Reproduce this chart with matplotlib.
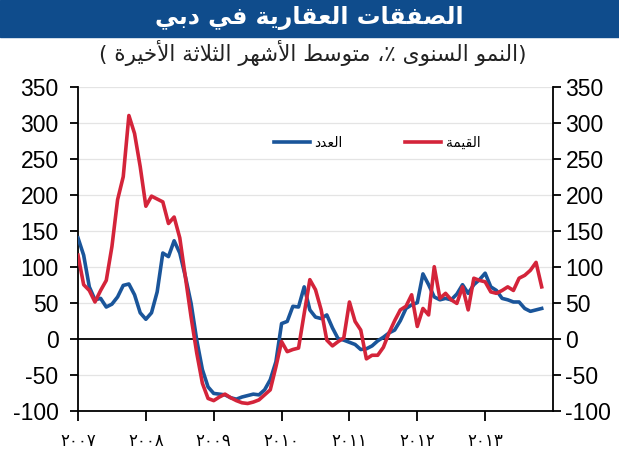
import numpy as np
import matplotlib
matplotlib.use("Agg")
import matplotlib.pyplot as plt
from matplotlib.patches import Rectangle

# ---------------- data ----------------
count_growth = [140, 116, 72, 54, 56, 44, 48, 58, 74, 76, 61, 36, 27, 36, 65, 119, 114, 136, 119, 86,
                49, -2, -43, -67, -76, -77, -78, -82, -84, -81, -79, -77, -78, -71, -57, -32, 21, 24, 45, 44,
                72, 40, 30, 28, 33, 15, 0, -2, -5, -8, -15, -14, -10, -3, 2, 8, 12, 25, 42, 47,
                50, 90, 75, 58, 54, 56, 54, 62, 75, 63, 75, 82, 91, 72, 67, 56, 54, 51, 51, 42,
                38, 40, 42]
value_growth = [116, 75, 67, 51, 67, 81, 128, 193, 225, 310, 285, 239, 184, 198, 194, 190, 160, 169, 140, 85,
                30, -20, -62, -83, -86, -81, -77, -82, -86, -89, -90, -88, -85, -78, -71, -39, -4, -18, -15, -13,
                35, 82, 68, 40, -2, -10, -4, 1, 51, 24, 12, -28, -23, -23, -12, 8, 25, 40, 45, 61,
                17, 42, 33, 100, 56, 63, 54, 49, 72, 40, 84, 81, 79, 65, 63, 67, 72, 67, 84, 88,
                95, 106, 72]
year_labels = ["٢٠٠٧", "٢٠٠٨", "٢٠٠٩", "٢٠١٠", "٢٠١١", "٢٠١٢", "٢٠١٣"]
y_ticks = [-100, -50, 0, 50, 100, 150, 200, 250, 300, 350]
title_text = "الصفقات العقارية في دبي"
subtitle_text = "(النمو السنوى ٪، متوسط الأشهر الثلاثة الأخيرة )"
label_count = "العدد"
label_value = "القيمة"

# ---------------- simple Arabic shaping ----------------
DUAL = {'ب': 0xFE8F, 'ت': 0xFE95, 'ث': 0xFE99, 'خ': 0xFEA5, 'س': 0xFEB1, 'ش': 0xFEB5,
        'ص': 0xFEB9, 'ط': 0xFEC1, 'ع': 0xFEC9, 'ف': 0xFED1, 'ق': 0xFED5, 'ل': 0xFEDD,
        'م': 0xFEE1, 'ن': 0xFEE5, 'ه': 0xFEE9, 'ي': 0xFEF1}
RIGHT = {'ا': 0xFE8D, 'أ': 0xFE83, 'ة': 0xFE93, 'د': 0xFEA9, 'ر': 0xFEAD, 'و': 0xFEED,
         'ى': 0xFEEF}
LAMALEF = {'ا': 0xFEFB, 'أ': 0xFEF7}


def shape(text):
    units = []
    i = 0
    while i < len(text):
        c = text[i]
        if c == 'ل' and i + 1 < len(text) and text[i + 1] in LAMALEF:
            units.append(('LA', LAMALEF[text[i + 1]]))
            i += 2
            continue
        if c in DUAL:
            units.append(('D', DUAL[c]))
        elif c in RIGHT:
            units.append(('R', RIGHT[c]))
        else:
            units.append(('N', c))
        i += 1
    out = []
    for k, (t, v) in enumerate(units):
        if t == 'N':
            out.append(v)
            continue
        prev_joins = k > 0 and units[k - 1][0] == 'D'
        next_joins = (t == 'D') and k + 1 < len(units) and units[k + 1][0] in ('D', 'R', 'LA')
        if t == 'D':
            if prev_joins and next_joins:
                code = v + 3
            elif prev_joins:
                code = v + 1
            elif next_joins:
                code = v + 2
            else:
                code = v
        else:
            code = v + 1 if prev_joins else v
        out.append(chr(code))
    vis = ''.join(out)[::-1]
    vis = vis.translate(str.maketrans({'(': ')', ')': '('}))
    return vis


# ---------------- figure ----------------
plt.rcParams['axes.unicode_minus'] = False
blue = '#1a559a'
red = '#d4243a'
band = '#0f4c8c'
arab_font = ['DejaVu Sans']
num_font = ['Liberation Sans', 'DejaVu Sans']

fig = plt.figure(figsize=(6.19, 4.5), dpi=100)
fig.patches.append(Rectangle((0, 1 - 37 / 450), 1, 37 / 450, transform=fig.transFigure,
                             color=band, zorder=0))
fig.text(0.5, 1 - 18 / 450, shape(title_text), color='white', ha='center', va='center',
         fontsize=17, fontweight='bold', family=arab_font)
fig.text(0.505, 1 - 53 / 450, shape(subtitle_text), color='#222222', ha='center', va='center',
         fontsize=15.5, family=arab_font)

ax = fig.add_axes([78 / 619, 39.3 / 450, 475 / 619, 324 / 450])
x = np.arange(len(count_growth))
ax.plot(x, count_growth, color=blue, lw=2.6, label=shape(label_count), zorder=3,
        solid_joinstyle='round')
ax.plot(x, value_growth, color=red, lw=2.6, label=shape(label_value), zorder=4,
        solid_joinstyle='round')

ax.set_xlim(0, 84)
ax.set_ylim(-100, 350)
ax.set_yticks(y_ticks)
for yv in y_ticks:
    if yv not in (0, -100):
        ax.axhline(yv, color='#e4e4e4', lw=0.9, zorder=1)
ax.axhline(0, color='black', lw=1.3, zorder=2)

ax.spines['top'].set_visible(False)
for s in ('left', 'right', 'bottom'):
    ax.spines[s].set_linewidth(1.3)
ax.tick_params(axis='y', which='both', left=True, right=True, labelleft=True, labelright=True,
               direction='out', length=6, width=1.3, labelsize=16.5)
ax.yaxis.set_tick_params(which='major', pad=8)
for t in ax.yaxis.get_major_ticks():
    t.label2.set_x(1.0)
ax.set_xticks(np.arange(0, 84, 12))
ax.set_xticklabels(year_labels, family=arab_font, fontsize=12)
ax.tick_params(axis='x', direction='out', length=7, width=1.3, pad=8)
for lab in ax.get_yticklabels():
    lab.set_family(num_font)
for t in ax.yaxis.get_major_ticks():
    t.label2.set_family(num_font)

fig.canvas.draw()
# pull right-hand labels slightly closer to the axis so they fit the canvas
import matplotlib.transforms as mtrans
offset = mtrans.ScaledTranslation(-5 / 72, 0, fig.dpi_scale_trans)
for t in ax.yaxis.get_major_ticks():
    t.label2.set_transform(t.label2.get_transform() + offset)

leg = ax.legend(loc='center', bbox_to_anchor=(0.63, 0.826), ncol=2, frameon=False,
                handlelength=2.6, handletextpad=0.3, columnspacing=4.5,
                prop={'family': arab_font, 'size': 10})

fig.savefig('out.png', dpi=100)
